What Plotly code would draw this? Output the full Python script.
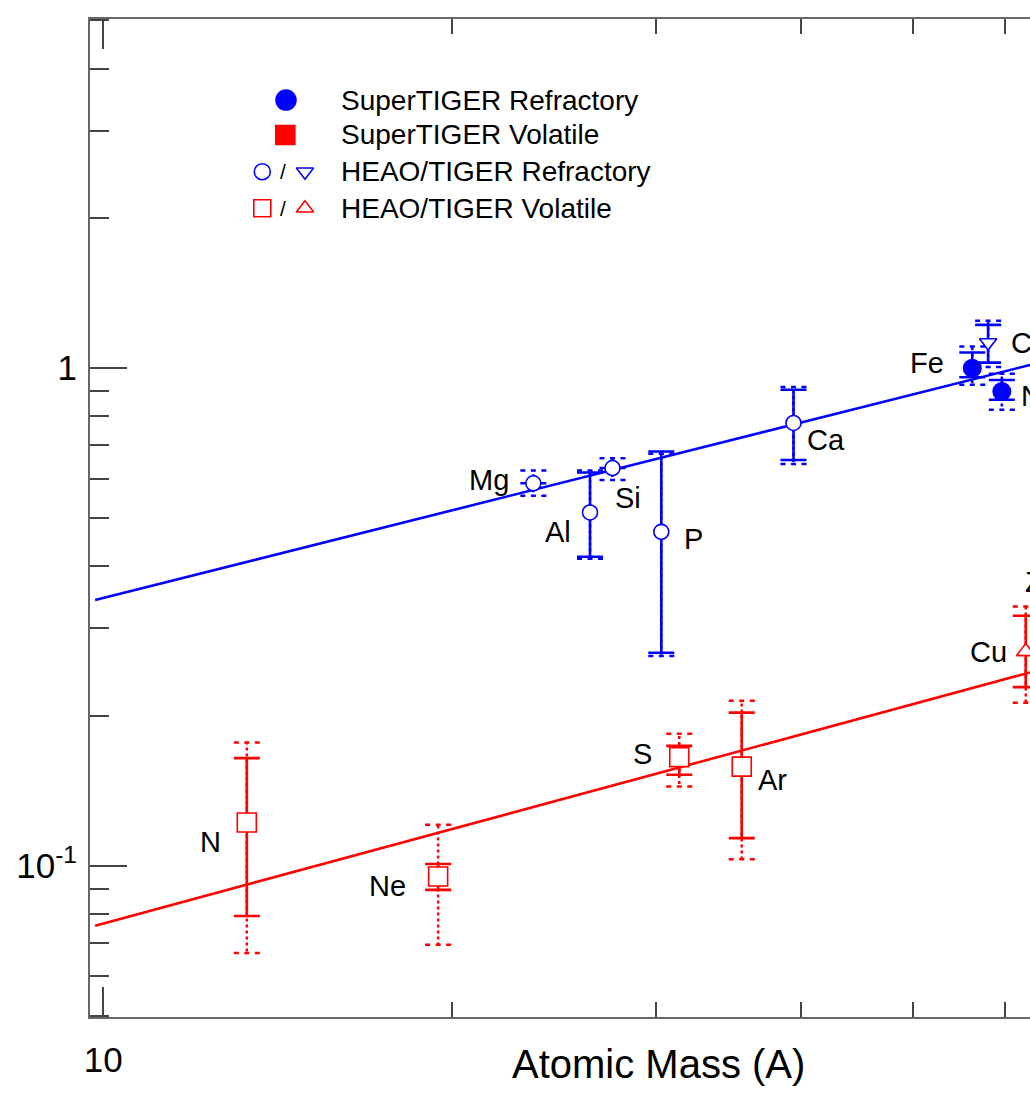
import numpy as np
import plotly.graph_objects as go

# ---------------- data ----------------
X_RANGE = [9.74, 63.03]
Y_RANGE = [0.0497, 5.03]

# HEAO/TIGER refractory (open circles)
ref_el = ["Mg", "Al", "Si", "P", "Ca"]
ref_A = [23.5, 26.3, 27.5, 30.3, 39.4]
ref_val = [0.587, 0.513, 0.630, 0.469, 0.776]
ref_hi = [0.587, 0.617, 0.630, 0.680, 0.905]
ref_lo = [0.587, 0.418, 0.630, 0.268, 0.654]
ref_dhi = [0.623, 0.623, 0.659, 0.673, 0.917]
ref_dlo = [0.554, 0.414, 0.596, 0.264, 0.642]

# HEAO/TIGER refractory (open down-triangles)
reft_el = ["Co"]
reft_A = [58.0]
reft_val = [1.126]
reft_hi = [1.222]
reft_lo = [1.026]
reft_dhi = [1.246]
reft_dlo = [1.006]

# SuperTIGER refractory (filled circles)
st_el = ["Fe", "Ni"]
st_A = [56.2, 59.6]
st_val = [1.0, 0.898]
st_hi = [1.075, 0.947]
st_lo = [0.959, 0.864]
st_dhi = [1.105, 0.974]
st_dlo = [0.926, 0.825]

# HEAO/TIGER volatile (open squares)
vol_el = ["N", "Ne", "S", "Ar"]
vol_A = [13.3, 19.45, 31.4, 35.55]
vol_val = [0.1222, 0.0952, 0.1654, 0.1583]
vol_hi = [0.1646, 0.1009, 0.1742, 0.2032]
vol_lo = [0.0793, 0.0895, 0.1524, 0.1137]
vol_dhi = [0.1769, 0.121, 0.1842, 0.2146]
vol_dlo = [0.0668, 0.0694, 0.1443, 0.1031]

# HEAO/TIGER volatile (open up-triangles)
volt_el = ["Cu"]
volt_A = [62.5]
volt_val = [0.2695]
volt_hi = [0.318]
volt_lo = [0.2286]
volt_dhi = [0.332]
volt_dlo = [0.2126]

# fitted lines (end points)
fit_A = [9.84, 63.03]
ref_fit = [0.342, 1.015]
vol_fit = [0.0758, 0.2447]

zn_label_A, zn_label_val = 62.2, 0.372

x_major = [10]
x_minor = [20, 30, 40, 50, 60]
y_major = [0.1, 1]
y_major_text = ["10<sup>-1</sup>", "1"]
y_minor = [0.05, 0.06, 0.07, 0.08, 0.09, 0.2, 0.3, 0.4, 0.5, 0.6, 0.7, 0.8, 0.9, 2, 3, 4, 5]

legend_text = ["SuperTIGER Refractory", "SuperTIGER Volatile",
               "HEAO/TIGER Refractory", "HEAO/TIGER Volatile"]

# ---------------- style ----------------
BLUE = "#0000ff"
RED = "#ff0000"
FONT = "Liberation Sans, Arial, Helvetica, sans-serif"
W, H = 1030, 1094
ML, MR, MT, MB = 90, 0, 19, 77
PLOT_W = W - ML - MR
CAP_HALF = 13  # px

label_style = {
    "Mg": ("right", -22, 3), "Al": ("right", -17, -20), "Si": ("left", 1, -30),
    "P": ("left", 21, -7), "Ca": ("left", 12, -17), "Fe": ("right", -26, 5),
    "Co": ("left", 21, 0), "Ni": ("left", 17, -5), "N": ("right", -24, -19),
    "Ne": ("right", -30, -9), "S": ("right", -25, 3), "Ar": ("left", 14, -13),
    "Cu": ("right", -17, 0),
}

px_per_decade = PLOT_W / (np.log10(X_RANGE[1]) - np.log10(X_RANGE[0]))
cap_f = 10 ** (CAP_HALF / px_per_decade)

fig = go.Figure()

# fit lines
fig.add_trace(go.Scatter(x=fit_A, y=ref_fit, mode="lines", line=dict(color=BLUE, width=2.6),
                         hoverinfo="skip", showlegend=False))
fig.add_trace(go.Scatter(x=fit_A, y=vol_fit, mode="lines", line=dict(color=RED, width=2.6),
                         hoverinfo="skip", showlegend=False))


def dotted(groups, color):
    vx, vy, cx, cy = [], [], [], []
    for A, v, dh, dl in groups:
        for a, val, h, l in zip(A, v, dh, dl):
            vx += [a, a, None, a, a, None]
            vy += [val, h, None, val, l, None]
            cx += [a / cap_f, a * cap_f, None, a / cap_f, a * cap_f, None]
            cy += [h, h, None, l, l, None]
    fig.add_trace(go.Scatter(x=vx, y=vy, mode="lines", line=dict(color=color, width=2.5, dash="3px,3px"),
                             hoverinfo="skip", showlegend=False))
    fig.add_trace(go.Scatter(x=cx, y=cy, mode="lines", line=dict(color=color, width=2.5, dash="5px,5.5px"),
                             hoverinfo="skip", showlegend=False))


dotted([(ref_A, ref_val, ref_dhi, ref_dlo), (reft_A, reft_val, reft_dhi, reft_dlo),
        (st_A, st_val, st_dhi, st_dlo)], BLUE)
dotted([(vol_A, vol_val, vol_dhi, vol_dlo), (volt_A, volt_val, volt_dhi, volt_dlo)], RED)


def points(A, v, hi, lo, color, symbol, size, filled):
    err_p = [h - y for h, y in zip(hi, v)]
    err_m = [y - l for y, l in zip(v, lo)]
    fig.add_trace(go.Scatter(
        x=A, y=v, mode="markers",
        marker=dict(symbol=symbol, size=size, color=color if filled else "white",
                    line=dict(color=color, width=0 if filled else 1.6)),
        error_y=dict(type="data", symmetric=False, array=err_p, arrayminus=err_m,
                     color=color, thickness=2.6, width=CAP_HALF),
        showlegend=False))


points(ref_A, ref_val, ref_hi, ref_lo, BLUE, "circle", 15, False)
points(reft_A, reft_val, reft_hi, reft_lo, BLUE, "triangle-down", 15, False)
points(st_A, st_val, st_hi, st_lo, BLUE, "circle", 19, True)
points(vol_A, vol_val, vol_hi, vol_lo, RED, "square", 19, False)
points(volt_A, volt_val, volt_hi, volt_lo, RED, "triangle-up", 16, False)

annotations = []
for els, A, v in [(ref_el, ref_A, ref_val), (reft_el, reft_A, reft_val), (st_el, st_A, st_val),
                  (vol_el, vol_A, vol_val), (volt_el, volt_A, volt_val)]:
    for e, a, val in zip(els, A, v):
        anc, dx, dy = label_style[e]
        annotations.append(dict(x=np.log10(a), y=np.log10(val), xref="x", yref="y", text=e,
                                showarrow=False, xanchor=anc, yanchor="middle", xshift=dx, yshift=dy,
                                font=dict(family=FONT, size=29, color="black")))
annotations.append(dict(x=np.log10(zn_label_A), y=np.log10(zn_label_val), xref="x", yref="y", text="Zn",
                        showarrow=False, xanchor="left", yanchor="middle",
                        font=dict(family=FONT, size=29, color="black")))

# legend (manual)
leg_rows_y = [0.9188, 0.8838, 0.847, 0.8103]
leg_text_x = 0.2645
for t, yy in zip(legend_text, leg_rows_y):
    annotations.append(dict(x=leg_text_x, y=yy, xref="paper", yref="paper", text=t, showarrow=False,
                            xanchor="left", yanchor="middle", font=dict(family=FONT, size=28, color="black")))
for yy in leg_rows_y[2:]:
    annotations.append(dict(x=0.2053, y=yy, xref="paper", yref="paper", text="/", showarrow=False,
                            xanchor="center", yanchor="middle", font=dict(family=FONT, size=21, color="black")))

leg_marks = [
    (0.2085, leg_rows_y[0], "circle", 20, BLUE, True),
    (0.2078, leg_rows_y[1], "square", 19, RED, True),
    (0.1833, leg_rows_y[2], "circle-open", 16, BLUE, False),
    (0.2287, leg_rows_y[2], "triangle-down-open", 15, BLUE, False),
    (0.1833, leg_rows_y[3], "square-open", 17, RED, False),
    (0.2287, leg_rows_y[3], "triangle-up-open", 15, RED, False),
]
for lx, ly, sym, sz, col, filled in leg_marks:
    fig.add_trace(go.Scatter(x=[lx], y=[ly], xaxis="x2", yaxis="y2", mode="markers",
                             marker=dict(symbol=sym, size=sz, color=col,
                                         line=dict(color=col, width=1.6)),
                             hoverinfo="skip", showlegend=False, cliponaxis=False))

# axis title
annotations.append(dict(x=(658 - ML) / PLOT_W, y=-0.047, xref="paper", yref="paper",
                        text="Atomic Mass (A)", showarrow=False, xanchor="center", yanchor="middle",
                        font=dict(family=FONT, size=40, color="black")))

fig.update_layout(
    width=W, height=H, margin=dict(l=ML, r=MR, t=MT, b=MB),
    paper_bgcolor="white", plot_bgcolor="white", showlegend=False,
    font=dict(family=FONT, color="black"),
    xaxis=dict(type="log", range=[np.log10(X_RANGE[0]), np.log10(X_RANGE[1])],
               showgrid=False, zeroline=False, showline=True, linecolor="#666", linewidth=2,
               mirror="ticks", ticks="inside", ticklen=30, tickwidth=1.8, tickcolor="#444",
               tickmode="array", tickvals=x_major, ticktext=["10"],
               tickfont=dict(family=FONT, size=35, color="black"), ticklabelstandoff=11,
               minor=dict(tickmode="array", tickvals=x_minor, ticks="inside", ticklen=15,
                          tickwidth=1.8, tickcolor="#444", showgrid=False)),
    yaxis=dict(type="log", range=[np.log10(Y_RANGE[0]), np.log10(Y_RANGE[1])],
               showgrid=False, zeroline=False, showline=True, linecolor="#666", linewidth=2,
               mirror=False, ticks="inside", ticklen=37, tickwidth=1.8, tickcolor="#444",
               tickmode="array", tickvals=y_major, ticktext=y_major_text,
               tickfont=dict(family=FONT, size=35, color="black"), ticklabelstandoff=4,
               minor=dict(tickmode="array", tickvals=y_minor, ticks="inside", ticklen=19,
                          tickwidth=1.8, tickcolor="#444", showgrid=False)),
    xaxis2=dict(overlaying="x", range=[0, 1], visible=False, fixedrange=True),
    yaxis2=dict(overlaying="y", range=[0, 1], visible=False, fixedrange=True),
    annotations=annotations,
)

fig.write_html("out.html", config={"displayModeBar": False})
